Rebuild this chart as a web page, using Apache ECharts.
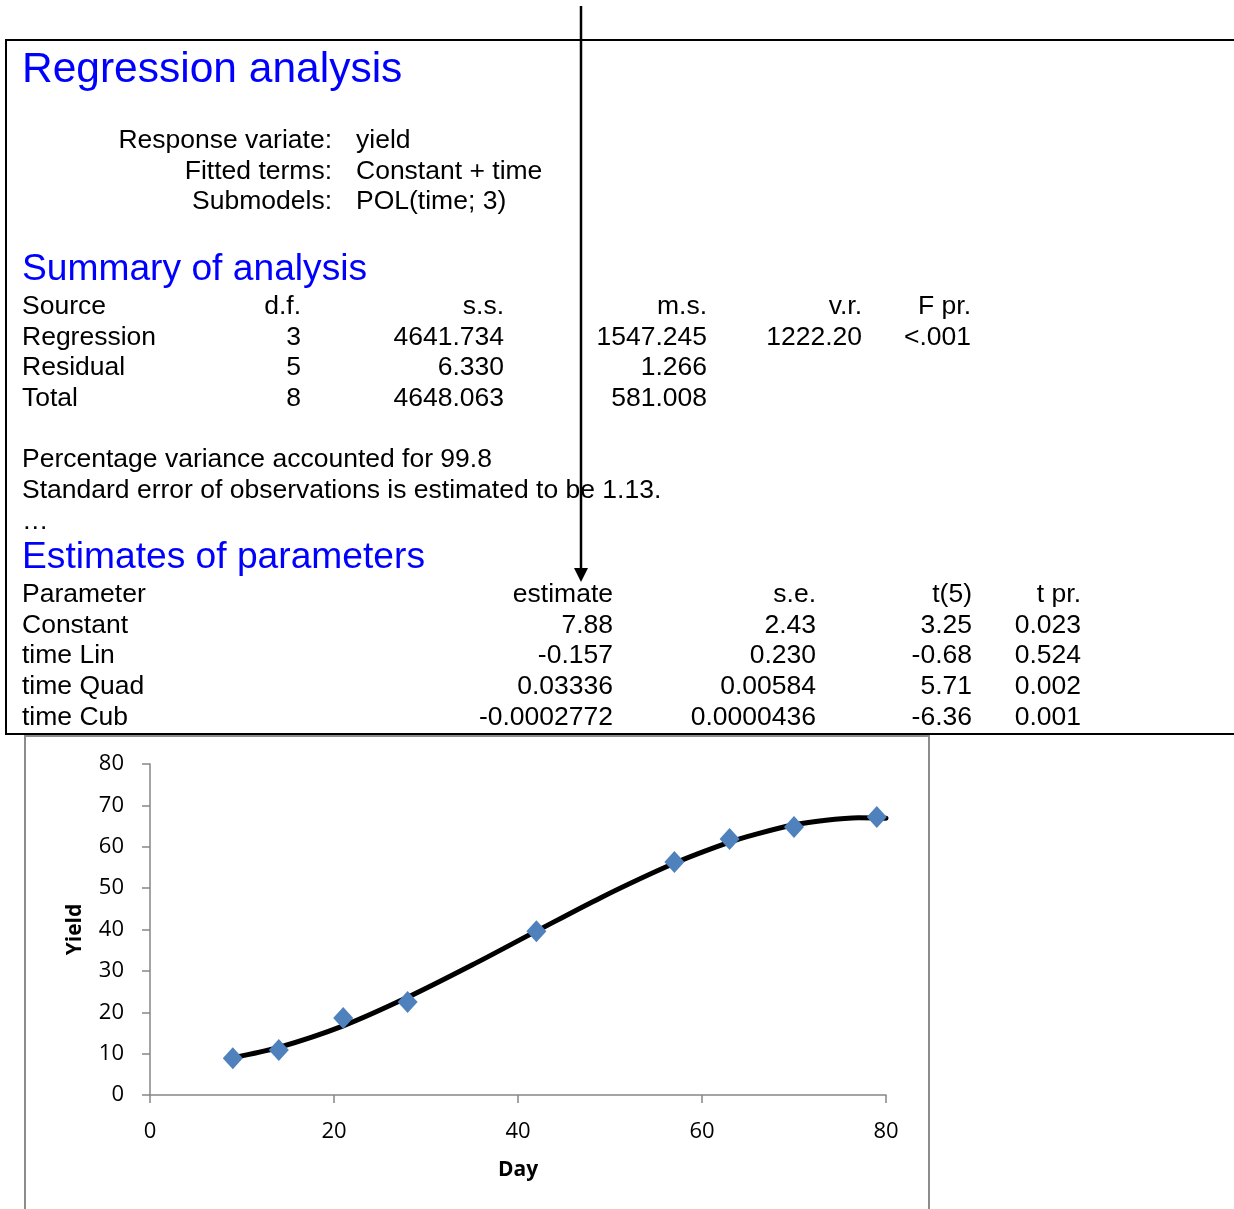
<!DOCTYPE html>
<html>
<head>
<meta charset="utf-8">
<script src="https://cdn.jsdelivr.net/npm/echarts@6/dist/echarts.min.js"></script>
<style>
  html, body { margin: 0; padding: 0; background: #fff; }
  #main { width: 1234px; height: 1209px; }
</style>
</head>
<body>
<div id="main"></div>
<script>
// Observed yields
const days = [9, 14, 21, 28, 42, 57, 63, 70, 79];
const yields = [8.9, 10.9, 18.6, 22.5, 39.6, 56.3, 61.9, 64.8, 67.2];

// Fitted cubic curve (as plotted)
const fitDays = [9, 14, 21, 28, 35, 42, 49, 57, 63, 66, 70, 73, 77, 80];
const fitYield = [9.0, 11.5, 16.7, 23.6, 31.4, 39.6, 47.7, 56.0, 61.1, 63.1, 65.3, 66.3, 67.0, 66.9];

const xTicks = [0, 20, 40, 60, 80];
const yTicks = [0, 10, 20, 30, 40, 50, 60, 70, 80];

// Regression output text
const modelLabels = ['Response variate:', 'Fitted terms:', 'Submodels:'];
const modelValues = ['yield', 'Constant + time', 'POL(time; 3)'];

const summaryHeader = ['Source', 'd.f.', 's.s.', 'm.s.', 'v.r.', 'F pr.'];
const summaryRows = [
  ['Regression', '3', '4641.734', '1547.245', '1222.20', '<.001'],
  ['Residual', '5', '6.330', '1.266', '', ''],
  ['Total', '8', '4648.063', '581.008', '', '']
];
const notes = [
  'Percentage variance accounted for 99.8',
  'Standard error of observations is estimated to be 1.13.',
  '\u2026'
];
const estHeader = ['Parameter', 'estimate', 's.e.', 't(5)', 't pr.'];
const estRows = [
  ['Constant', '7.88', '2.43', '3.25', '0.023'],
  ['time Lin', '-0.157', '0.230', '-0.68', '0.524'],
  ['time Quad', '0.03336', '0.00584', '5.71', '0.002'],
  ['time Cub', '-0.0002772', '0.0000436', '-6.36', '0.001']
];

const FONT = '"Liberation Sans", Arial, sans-serif';
const BODY = 26.5;
const BLUE = '#0000FF';

function txt(text, x, y, opts) {
  opts = opts || {};
  return {
    type: 'text',
    x: x, y: y,
    z: 10,
    style: {
      text: text,
      fontFamily: FONT,
      fontSize: opts.size || BODY,
      fill: opts.color || '#000',
      align: opts.align || 'left',
      verticalAlign: 'middle'
    }
  };
}

const graphics = [];

// Text panel border
graphics.push({
  type: 'polyline', z: 5,
  shape: { points: [[1240, 40], [6, 40], [6, 734], [1240, 734]] },
  style: { stroke: '#000', lineWidth: 2, fill: null }
});

// Chart frame
graphics.push({
  type: 'rect', z: 1,
  shape: { x: 25, y: 736, width: 904, height: 500 },
  style: { stroke: '#8c8c8c', lineWidth: 2, fill: null }
});

// Headings
graphics.push(txt('Regression analysis', 22, 70, { size: 42.5, color: BLUE }));
graphics.push(txt('Summary of analysis', 22, 270, { size: 37.2, color: BLUE }));
graphics.push(txt('Estimates of parameters', 22, 558, { size: 37.2, color: BLUE }));

// Model description
const modelY = [141, 172, 202];
modelLabels.forEach((l, i) => {
  graphics.push(txt(l, 332, modelY[i], { align: 'right' }));
  graphics.push(txt(modelValues[i], 356, modelY[i]));
});

// Summary of analysis table
const sumX = [22, 301, 504, 707, 862, 971];
const sumAlign = ['left', 'right', 'right', 'right', 'right', 'right'];
const sumY = [307, 338, 368, 399];
[summaryHeader].concat(summaryRows).forEach((row, r) => {
  row.forEach((cell, c) => {
    if (cell) graphics.push(txt(cell, sumX[c], sumY[r], { align: sumAlign[c] }));
  });
});

// Notes
const noteY = [460, 491, 522];
notes.forEach((n, i) => graphics.push(txt(n, 22, noteY[i])));

// Estimates table
const estX = [22, 613, 816, 972, 1081];
const estAlign = ['left', 'right', 'right', 'right', 'right'];
const estY = [595, 626, 656, 687, 718];
[estHeader].concat(estRows).forEach((row, r) => {
  row.forEach((cell, c) => {
    graphics.push(txt(cell, estX[c], estY[r], { align: estAlign[c] }));
  });
});

// Pointer arrow to the estimate column
graphics.push({
  type: 'line', z: 20,
  shape: { x1: 581, y1: 6, x2: 581, y2: 570 },
  style: { stroke: '#000', lineWidth: 2.5 }
});
graphics.push({
  type: 'polygon', z: 20,
  shape: { points: [[574, 568], [588, 568], [581, 582]] },
  style: { fill: '#000' }
});

const chart = echarts.init(document.getElementById('main'), null, { renderer: 'canvas' });

const AXIS_FONT = '"Open Sans", sans-serif';

chart.setOption({
  backgroundColor: '#fff',
  animation: false,
  grid: { left: 150, right: 348, top: 764, bottom: 114, containLabel: false },
  xAxis: {
    type: 'value', min: xTicks[0], max: xTicks[xTicks.length - 1], interval: 20,
    name: 'Day', nameLocation: 'middle', nameGap: 65,
    axisLine: { show: true, lineStyle: { color: '#868686', width: 1.5 } },
    axisTick: { show: true, inside: false, length: 8, lineStyle: { color: '#868686', width: 1.5 } },
    splitLine: { show: false },
    axisLabel: { color: '#000', fontFamily: AXIS_FONT, fontSize: 22, margin: 26 },
    nameTextStyle: { color: '#000', fontFamily: AXIS_FONT, fontSize: 21, fontWeight: 'bold' }
  },
  yAxis: {
    type: 'value', min: yTicks[0], max: yTicks[yTicks.length - 1], interval: 10,
    name: 'Yield', nameLocation: 'middle', nameGap: 64,
    axisLine: { show: true, lineStyle: { color: '#868686', width: 1.5 } },
    axisTick: { show: true, inside: false, length: 8, lineStyle: { color: '#868686', width: 1.5 } },
    splitLine: { show: false },
    axisLabel: { color: '#000', fontFamily: AXIS_FONT, fontSize: 22, margin: 26 },
    nameTextStyle: { color: '#000', fontFamily: AXIS_FONT, fontSize: 21, fontWeight: 'bold' }
  },
  graphic: graphics,
  series: [
    {
      type: 'line',
      data: fitDays.map((d, i) => [d, fitYield[i]]),
      smooth: 0.3,
      showSymbol: false,
      symbol: 'none',
      lineStyle: { color: '#000', width: 5, cap: 'round' },
      z: 2
    },
    {
      type: 'scatter',
      data: days.map((d, i) => [d, yields[i]]),
      symbol: 'diamond',
      symbolSize: [20, 22],
      itemStyle: { color: '#4F81BD', opacity: 1 },
      z: 3
    }
  ]
});
</script>
</body>
</html>
